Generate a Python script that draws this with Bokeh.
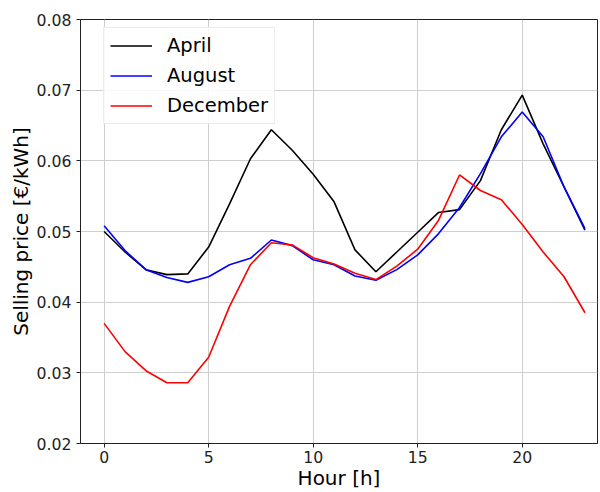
from bokeh.plotting import figure
from bokeh.models import Range1d, FixedTicker, PrintfTickFormatter, Legend, LegendItem
from bokeh.embed import file_html
from bokeh.resources import INLINE

hours = list(range(24))
april = [0.0500, 0.0471, 0.0446, 0.0439, 0.0440, 0.0478, 0.0539, 0.0603, 0.0644, 0.0615,
         0.0581, 0.0542, 0.0474, 0.0443, 0.0471, 0.0499, 0.0527, 0.0531, 0.0572, 0.0644,
         0.0693, 0.0624, 0.0563, 0.0502]
august = [0.0508, 0.0473, 0.0446, 0.0435, 0.0428, 0.0436, 0.0453, 0.0462, 0.0488, 0.0480,
          0.0460, 0.0453, 0.0437, 0.0431, 0.0446, 0.0467, 0.0497, 0.0534, 0.0582, 0.0634,
          0.0669, 0.0634, 0.0563, 0.0504]
december = [0.0370, 0.0330, 0.0303, 0.0286, 0.0286, 0.0322, 0.0394, 0.0453, 0.0484, 0.0481,
            0.0463, 0.0454, 0.0441, 0.0432, 0.0451, 0.0475, 0.0516, 0.0580, 0.0558, 0.0545,
            0.0510, 0.0471, 0.0436, 0.0385]
series_names = ["April", "August", "December"]
series_colors = ["black", "#0000ff", "#ff0000"]
x_ticks = [0, 5, 10, 15, 20]
y_ticks = [0.02, 0.03, 0.04, 0.05, 0.06, 0.07, 0.08]

FONT = "DejaVu Sans"

p = figure(width=600, height=492, output_backend="svg", toolbar_location=None,
           x_range=Range1d(-1.13, 23.6), y_range=Range1d(0.02, 0.08),
           min_border_left=80, min_border_right=3, min_border_top=19, min_border_bottom=49)
p.background_fill_color = "white"
p.border_fill_color = "white"
p.outline_line_color = "#222222"
p.outline_line_width = 1

items = []
for name, ys, col in zip(series_names, [april, august, december], series_colors):
    r = p.line(hours, ys, line_color=col, line_width=1.6)
    items.append(LegendItem(label=name, renderers=[r]))

legend = Legend(items=items, location=(23, 424 - 10 - 95))
legend.label_text_font = FONT
legend.label_text_font_size = "19.5px"
legend.label_text_color = "black"
legend.glyph_width = 42
legend.glyph_height = 23
legend.label_height = 23
legend.label_standoff = 15
legend.spacing = 7
legend.padding = 6
legend.margin = 0
legend.border_line_color = "#d9d9d9"
legend.border_line_width = 1
legend.background_fill_alpha = 0.85
p.add_layout(legend, "center")

p.xaxis.ticker = FixedTicker(ticks=x_ticks)
p.yaxis.ticker = FixedTicker(ticks=y_ticks)
p.yaxis.formatter = PrintfTickFormatter(format="%.2f")
p.xaxis.axis_label = "Hour [h]"
p.yaxis.axis_label = "Selling price [€/kWh]"
for ax in [p.xaxis, p.yaxis]:
    ax.axis_label_text_font = FONT
    ax.axis_label_text_font_size = "20px"
    ax.axis_label_text_font_style = "normal"
    ax.axis_label_text_color = "black"
    ax.major_label_text_font = FONT
    ax.major_label_text_font_size = "15.7px"
    ax.major_label_text_color = "#222222"
    ax.axis_line_color = "#222222"
    ax.major_tick_line_color = "#222222"
    ax.major_tick_out = 4
    ax.major_tick_in = 0
    ax.minor_tick_line_color = None
p.xaxis.major_label_standoff = 3
p.xaxis.axis_label_standoff = 0
p.yaxis.axis_label_standoff = 1

p.xgrid.ticker = FixedTicker(ticks=x_ticks)
p.ygrid.ticker = FixedTicker(ticks=y_ticks)
p.grid.grid_line_color = "#cfcfcf"
p.grid.grid_line_width = 1

open("out.html", "w").write(file_html(p, INLINE))
